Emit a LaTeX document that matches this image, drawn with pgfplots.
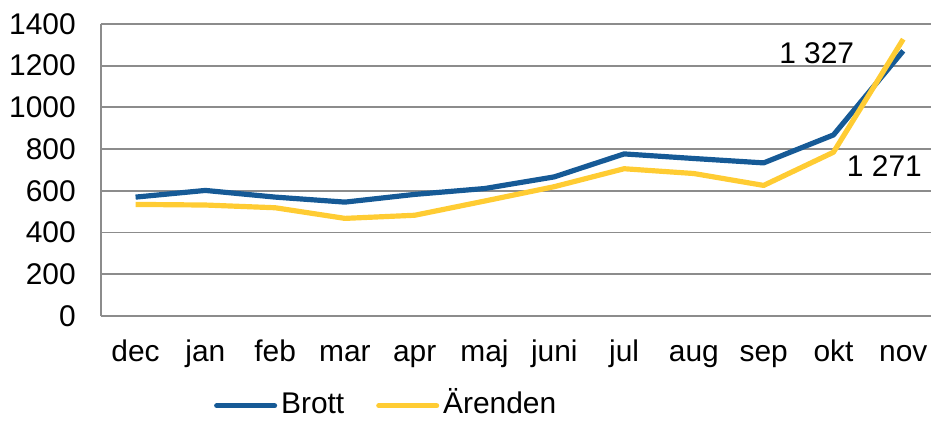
\documentclass[border=0pt]{standalone}
\usepackage{fontspec}
\setmainfont{Liberation Sans}
\usepackage{pgfplots}
\pgfplotsset{compat=1.18}

\definecolor{brott}{HTML}{165A96}
\definecolor{arenden}{HTML}{FFCC33}
\definecolor{gridgray}{HTML}{8C8C8C}

\begin{document}
\begin{tikzpicture}
  \begin{axis}[
      scale only axis,
      width=416.5pt, height=146.5pt,
      xmin=-0.5, xmax=11.4,
      ymin=0, ymax=1400,
      ytick={0,200,...,1400},
      xtick={0,...,11},
      xticklabels={dec,jan,feb,mar,apr,maj,juni,jul,aug,sep,okt,nov},
      axis x line=bottom, axis y line=left,
      axis line style={gridgray, line width=1pt, -},
      x axis line style={line width=1.4pt},
      major tick length=0pt,
      ymajorgrids,
      grid style={gridgray, line width=0.9pt},
      tick label style={font=\fontsize{15}{17}\selectfont},
      yticklabel style={xshift=-9pt},
      xticklabel style={anchor=base, yshift=-23pt},
      /pgf/number format/assume math mode=true,
      /pgf/number format/1000 sep={},
      legend columns=2,
      legend style={at={(0.345,-45pt)}, anchor=center, draw=none,
        font=\fontsize{15}{17}\selectfont,
        nodes={text height=11pt, text depth=3pt},
        /tikz/every even column/.append style={column sep=14pt}},
      legend image code/.code={\draw[#1, line width=2.6pt, line cap=round] (0pt,0pt) -- (29pt,0pt);},
      legend cell align=left,
    ]
    \addplot[brott, line width=2.6pt, line join=round] coordinates {
      (0,570) (1,602) (2,570) (3,546) (4,583) (5,611) (6,667)
      (7,777) (8,755) (9,734) (10,868) (11,1271)};
    \addlegendentry{Brott}
    \addplot[arenden, line width=2.6pt, line join=round] coordinates {
      (0,535) (1,532) (2,519) (3,468) (4,483) (5,551) (6,620)
      (7,706) (8,683) (9,626) (10,785) (11,1327)};
    \addlegendentry{Ärenden}
    \node[font=\fontsize{15}{17}\selectfont] at (axis cs:9.76,1261) {1 327};
    \node[font=\fontsize{15}{17}\selectfont] at (axis cs:10.73,717) {1 271};
  \end{axis}
  \useasboundingbox (-50.5pt,-49pt) rectangle (416.5pt,158.5pt);
\end{tikzpicture}
\end{document}
